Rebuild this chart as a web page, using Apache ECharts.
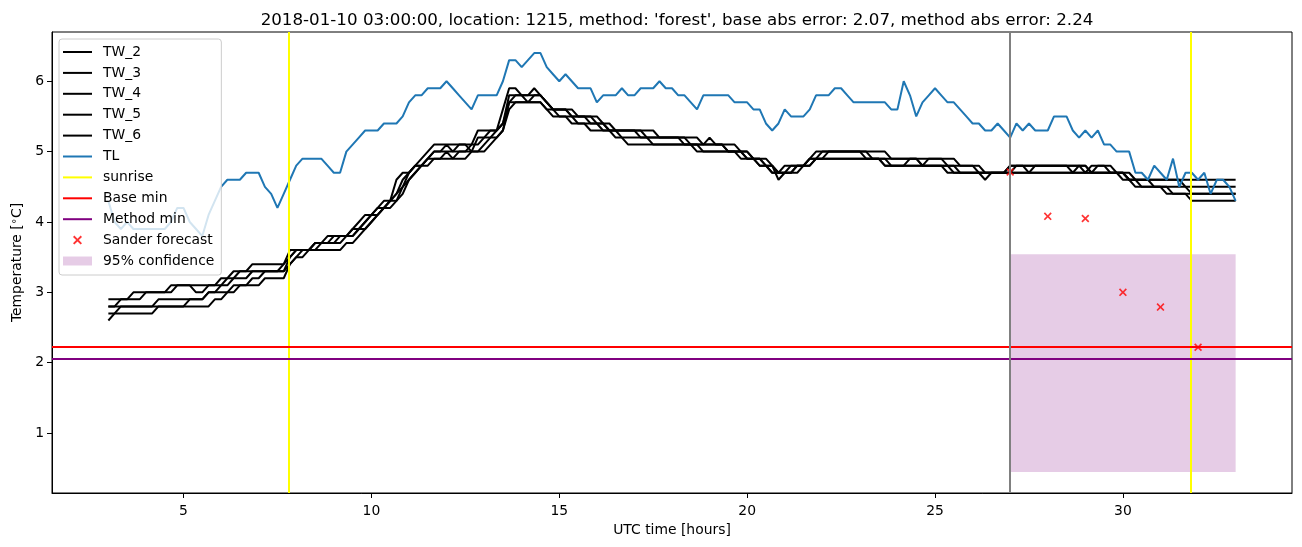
<!DOCTYPE html>
<html><head><meta charset="utf-8">
<script src="https://cdn.jsdelivr.net/npm/echarts@6/dist/echarts.min.js"></script>
<style>html,body{margin:0;padding:0;background:#fff}#c{width:1302px;height:547px}</style>
</head><body><div id="c"></div>
<script>
// sampling grid: every 10 minutes from 03:00 to 33:00 UTC hours
const startHour = 3;
const stepsPerHour = 6;

const TL = [
 4.3,4.0,3.9,4.0,3.9,3.9,
 3.9,3.9,3.9,3.9,4.0,4.2,
 4.2,4.0,3.9,3.8,4.1,4.3,
 4.5,4.6,4.6,4.6,4.7,4.7,
 4.7,4.5,4.4,4.2,4.4,4.6,
 4.8,4.9,4.9,4.9,4.9,4.8,
 4.7,4.7,5.0,5.1,5.2,5.3,
 5.3,5.3,5.4,5.4,5.4,5.5,
 5.7,5.8,5.8,5.9,5.9,5.9,
 6.0,5.9,5.8,5.7,5.6,5.8,
 5.8,5.8,5.8,6.0,6.3,6.3,
 6.2,6.3,6.4,6.4,6.2,6.1,
 6.0,6.1,6.0,5.9,5.9,5.9,
 5.7,5.8,5.8,5.8,5.9,5.8,
 5.8,5.9,5.9,5.9,6.0,5.9,
 5.9,5.8,5.8,5.7,5.6,5.8,
 5.8,5.8,5.8,5.8,5.7,5.7,
 5.7,5.6,5.6,5.4,5.3,5.4,
 5.6,5.5,5.5,5.5,5.6,5.8,
 5.8,5.8,5.9,5.9,5.8,5.7,
 5.7,5.7,5.7,5.7,5.7,5.6,
 5.6,6.0,5.8,5.5,5.7,5.8,
 5.9,5.8,5.7,5.7,5.6,5.5,
 5.4,5.4,5.3,5.3,5.4,5.3,
 5.2,5.4,5.3,5.4,5.3,5.3,
 5.3,5.5,5.5,5.5,5.3,5.2,
 5.3,5.2,5.3,5.1,5.1,5.0,
 5.0,5.0,4.7,4.7,4.6,4.8,
 4.7,4.6,4.9,4.5,4.7,4.7,
 4.6,4.7,4.4,4.6,4.6,4.5,
 4.3
];

const TW_2 = [
 2.9,2.9,2.9,2.9,3.0,3.0,
 3.0,3.0,3.0,3.0,3.1,3.1,
 3.1,3.1,3.0,3.0,3.1,3.1,
 3.2,3.2,3.3,3.3,3.3,3.4,
 3.4,3.4,3.4,3.4,3.4,3.6,
 3.6,3.6,3.6,3.7,3.7,3.8,
 3.8,3.8,3.8,3.9,4.0,4.1,
 4.1,4.2,4.3,4.3,4.6,4.7,
 4.7,4.8,4.9,5.0,5.1,5.1,
 5.1,5.1,5.1,5.1,5.1,5.3,
 5.3,5.3,5.3,5.6,5.9,5.9,
 5.8,5.8,5.9,5.8,5.7,5.6,
 5.6,5.6,5.6,5.5,5.5,5.5,
 5.5,5.4,5.4,5.3,5.3,5.3,
 5.3,5.3,5.3,5.3,5.2,5.2,
 5.2,5.2,5.2,5.2,5.2,5.1,
 5.2,5.1,5.1,5.1,5.1,5.0,
 5.0,4.9,4.9,4.9,4.8,4.7,
 4.8,4.8,4.8,4.8,4.9,4.9,
 5.0,5.0,5.0,5.0,5.0,5.0,
 5.0,5.0,5.0,5.0,5.0,4.9,
 4.9,4.9,4.9,4.9,4.9,4.9,
 4.9,4.9,4.9,4.9,4.8,4.8,
 4.8,4.8,4.7,4.7,4.7,4.7,
 4.8,4.8,4.8,4.8,4.8,4.8,
 4.8,4.8,4.8,4.8,4.8,4.8,
 4.7,4.8,4.8,4.8,4.8,4.7,
 4.7,4.7,4.6,4.6,4.6,4.6,
 4.6,4.6,4.6,4.6,4.6,4.6,
 4.6,4.6,4.6,4.6,4.6,4.6,
 4.6
];

const TW_3 = [
 2.8,2.8,2.9,2.9,2.9,2.9,
 3.0,3.0,3.0,3.0,3.0,3.1,
 3.1,3.1,3.1,3.1,3.1,3.1,
 3.1,3.2,3.2,3.3,3.3,3.3,
 3.3,3.3,3.3,3.3,3.4,3.5,
 3.6,3.6,3.6,3.7,3.7,3.7,
 3.8,3.8,3.8,3.8,3.9,4.0,
 4.1,4.1,4.2,4.3,4.4,4.6,
 4.7,4.8,4.8,4.9,5.0,5.0,
 5.1,5.0,5.1,5.1,5.0,5.2,
 5.2,5.3,5.3,5.4,5.8,5.8,
 5.8,5.8,5.8,5.8,5.7,5.6,
 5.6,5.6,5.5,5.5,5.5,5.5,
 5.4,5.4,5.3,5.3,5.3,5.3,
 5.3,5.3,5.2,5.2,5.2,5.2,
 5.2,5.2,5.1,5.1,5.1,5.1,
 5.1,5.1,5.1,5.0,5.0,5.0,
 4.9,4.9,4.8,4.8,4.7,4.7,
 4.7,4.8,4.8,4.8,4.9,5.0,
 5.0,5.0,5.0,5.0,5.0,5.0,
 5.0,4.9,4.9,4.9,4.9,4.9,
 4.9,4.9,4.9,4.9,4.8,4.9,
 4.9,4.9,4.8,4.8,4.8,4.8,
 4.8,4.7,4.7,4.7,4.7,4.7,
 4.8,4.8,4.8,4.7,4.8,4.8,
 4.8,4.8,4.8,4.8,4.8,4.8,
 4.8,4.7,4.8,4.8,4.7,4.7,
 4.7,4.6,4.6,4.6,4.6,4.6,
 4.6,4.6,4.6,4.6,4.5,4.5,
 4.5,4.5,4.5,4.5,4.5,4.5,
 4.5
];

const TW_4 = [
 2.8,2.8,2.8,2.8,2.8,2.8,
 2.8,2.8,2.9,2.9,2.9,2.9,
 2.9,2.9,2.9,2.9,3.0,3.0,
 3.1,3.1,3.2,3.2,3.2,3.3,
 3.3,3.3,3.3,3.3,3.3,3.5,
 3.6,3.6,3.6,3.7,3.7,3.7,
 3.7,3.8,3.8,3.9,3.9,4.0,
 4.1,4.2,4.2,4.3,4.4,4.5,
 4.7,4.8,4.8,4.9,5.0,5.0,
 5.0,5.0,5.0,5.0,5.1,5.1,
 5.2,5.2,5.3,5.4,5.7,5.8,
 5.8,5.7,5.8,5.8,5.7,5.6,
 5.6,5.6,5.5,5.5,5.5,5.4,
 5.4,5.4,5.3,5.3,5.3,5.3,
 5.3,5.2,5.2,5.2,5.2,5.2,
 5.2,5.2,5.2,5.1,5.1,5.1,
 5.1,5.1,5.1,5.0,5.0,5.0,
 5.0,4.9,4.9,4.8,4.8,4.7,
 4.7,4.7,4.8,4.8,4.8,4.9,
 4.9,5.0,5.0,5.0,5.0,5.0,
 5.0,5.0,4.9,4.9,4.9,4.8,
 4.8,4.8,4.9,4.9,4.8,4.8,
 4.8,4.8,4.8,4.7,4.7,4.7,
 4.7,4.7,4.7,4.7,4.7,4.7,
 4.7,4.8,4.8,4.8,4.8,4.8,
 4.8,4.8,4.8,4.8,4.7,4.8,
 4.8,4.7,4.7,4.7,4.7,4.7,
 4.6,4.6,4.6,4.5,4.5,4.5,
 4.5,4.5,4.4,4.4,4.4,4.4,
 4.4,4.4,4.4,4.4,4.4,4.4,
 4.4
];

const TW_5 = [
 2.7,2.7,2.8,2.8,2.8,2.8,
 2.8,2.8,2.8,2.8,2.8,2.8,
 2.8,2.9,2.9,2.9,3.0,3.0,
 3.0,3.0,3.1,3.1,3.1,3.2,
 3.2,3.3,3.3,3.3,3.3,3.4,
 3.5,3.6,3.6,3.6,3.7,3.7,
 3.7,3.7,3.8,3.8,3.9,3.9,
 4.0,4.1,4.2,4.3,4.3,4.5,
 4.6,4.7,4.8,4.9,4.9,4.9,
 5.0,4.9,5.0,5.0,5.0,5.0,
 5.1,5.2,5.2,5.3,5.7,5.7,
 5.7,5.7,5.7,5.7,5.6,5.6,
 5.5,5.5,5.5,5.4,5.4,5.4,
 5.4,5.3,5.3,5.3,5.2,5.2,
 5.2,5.2,5.2,5.1,5.1,5.1,
 5.1,5.1,5.1,5.1,5.1,5.0,
 5.0,5.0,5.0,5.0,5.0,4.9,
 4.9,4.9,4.8,4.8,4.7,4.7,
 4.7,4.7,4.7,4.8,4.8,4.9,
 4.9,4.9,4.9,4.9,4.9,4.9,
 4.9,4.9,4.9,4.9,4.8,4.8,
 4.8,4.8,4.8,4.8,4.8,4.8,
 4.8,4.8,4.7,4.7,4.7,4.7,
 4.7,4.7,4.7,4.7,4.7,4.7,
 4.7,4.7,4.7,4.7,4.7,4.7,
 4.7,4.7,4.7,4.7,4.7,4.7,
 4.7,4.7,4.7,4.7,4.7,4.7,
 4.7,4.6,4.6,4.6,4.6,4.5,
 4.5,4.5,4.5,4.5,4.5,4.4,
 4.4,4.4,4.4,4.4,4.4,4.4,
 4.4
];

const TW_6 = [
 2.6,2.7,2.7,2.7,2.7,2.7,
 2.7,2.7,2.8,2.8,2.8,2.8,
 2.8,2.8,2.8,2.8,2.8,2.9,
 2.9,3.0,3.0,3.1,3.1,3.1,
 3.1,3.2,3.2,3.2,3.2,3.4,
 3.5,3.5,3.6,3.6,3.6,3.6,
 3.6,3.6,3.7,3.7,3.8,3.9,
 4.0,4.1,4.2,4.2,4.3,4.4,
 4.6,4.7,4.8,4.8,4.9,4.9,
 4.9,4.9,4.9,4.9,5.0,5.0,
 5.0,5.1,5.2,5.3,5.6,5.7,
 5.7,5.7,5.7,5.7,5.6,5.5,
 5.5,5.5,5.4,5.4,5.4,5.3,
 5.3,5.3,5.3,5.2,5.2,5.1,
 5.1,5.1,5.1,5.1,5.1,5.1,
 5.1,5.1,5.1,5.1,5.0,5.0,
 5.0,5.0,5.0,5.0,5.0,5.0,
 4.9,4.9,4.9,4.8,4.8,4.6,
 4.7,4.7,4.8,4.8,4.9,4.9,
 4.9,4.9,4.9,4.9,4.9,4.9,
 4.9,4.9,4.9,4.9,4.8,4.8,
 4.8,4.8,4.8,4.8,4.8,4.8,
 4.8,4.8,4.8,4.8,4.7,4.7,
 4.7,4.7,4.6,4.7,4.7,4.7,
 4.7,4.7,4.7,4.7,4.7,4.7,
 4.7,4.7,4.7,4.7,4.7,4.7,
 4.7,4.7,4.7,4.7,4.7,4.7,
 4.7,4.6,4.5,4.5,4.5,4.5,
 4.5,4.4,4.4,4.4,4.4,4.3,
 4.3,4.3,4.3,4.3,4.3,4.3,
 4.3
];

const sunriseHours = [7.8, 31.8];
const forecastStartHour = [27.0];
const baseMin = [2.22];
const methodMin = [2.06];
const sanderHours = [27, 28, 29, 30, 31, 32];
const sanderValues = [4.71, 4.08, 4.05, 3.0, 2.79, 2.22];
const confidenceHours = [27, 33];
const confidenceRange = [0.446, 3.54];
const xTicks = [5, 10, 15, 20, 25, 30];
const yTicks = [1, 2, 3, 4, 5, 6];
const titleText = "2018-01-10 03:00:00, location: 1215, method: 'forest', base abs error: 2.07, method abs error: 2.24";

const times = TL.map((_, i) => startHour + i / stepsPerHour);
const pairs = arr => arr.map((v, i) => [times[i], v]);

const FONT = 'DejaVu Sans';
const LW = 2;
const chart = echarts.init(document.getElementById('c'), null, {renderer: 'canvas'});

const twSeries = [['TW_2', TW_2], ['TW_3', TW_3], ['TW_4', TW_4], ['TW_5', TW_5], ['TW_6', TW_6]].map(([n, d]) => ({
  name: n, type: 'line', data: pairs(d), symbol: 'none', showSymbol: false, color: '#000000',
  lineStyle: {color: '#000000', width: LW}, z: 2
}));

const vline = (name, color, vals, z) => ({
  name, type: 'line', data: [], symbol: 'none', color,
  lineStyle: {color, width: LW}, z,
  markLine: {silent: true, symbol: ['none', 'none'], label: {show: false}, animation: false,
    lineStyle: {color, width: LW, type: 'solid'},
    data: vals.map(v => ({xAxis: v}))}
});
const hline = (name, color, vals, z) => ({
  name, type: 'line', data: [], symbol: 'none', color,
  lineStyle: {color, width: LW}, z,
  markLine: {silent: true, symbol: ['none', 'none'], label: {show: false}, animation: false,
    lineStyle: {color, width: LW, type: 'solid'},
    data: vals.map(v => ({yAxis: v}))}
});

const xPath = 'path://M0,1.5L1.5,0L5,3.5L8.5,0L10,1.5L6.5,5L10,8.5L8.5,10L5,6.5L1.5,10L0,8.5L3.5,5Z';
const lineIcon = 'path://M0,0L29,0L29,2L0,2Z';

const option = {
  animation: false,
  backgroundColor: '#ffffff',
  textStyle: {fontFamily: FONT},
  title: {
    text: titleText, left: 672, top: 7, textAlign: 'center',
    textStyle: {fontFamily: FONT, fontSize: 16.7, fontWeight: 'normal', color: '#000'}
  },
  grid: {left: 52, top: 32, width: 1240, height: 461, show: true, borderColor: '#000', borderWidth: 1,
    backgroundColor: 'transparent', containLabel: false, outerBoundsMode: 'none'},
  legend: {
    orient: 'vertical', left: 59, top: 39, z: 20,
    padding: [6, 7, 7, 4],
    itemWidth: 29, itemHeight: 9, itemGap: 6.9, symbolKeepAspect: true,
    backgroundColor: 'rgba(255,255,255,0.8)', borderColor: '#cccccc', borderWidth: 1, borderRadius: 3,
    textStyle: {fontFamily: FONT, fontSize: 13.9, color: '#000', lineHeight: 14, padding: [0, 0, 0, 6]},
    data: [
      {name: 'TW_2', icon: lineIcon}, {name: 'TW_3', icon: lineIcon}, {name: 'TW_4', icon: lineIcon},
      {name: 'TW_5', icon: lineIcon}, {name: 'TW_6', icon: lineIcon}, {name: 'TL', icon: lineIcon},
      {name: 'sunrise', icon: lineIcon}, {name: 'Base min', icon: lineIcon}, {name: 'Method min', icon: lineIcon},
      {name: 'Sander forecast', icon: xPath},
      {name: '95% confidence', icon: 'rect'}],
    selectedMode: false
  },
  xAxis: {
    type: 'value', min: 1.5, max: 34.5,
    name: 'UTC time [hours]', nameLocation: 'middle', nameGap: 30,
    nameTextStyle: {fontFamily: FONT, fontSize: 13.9, color: '#000'},
    axisLine: {show: true, onZero: false, lineStyle: {color: '#000', width: 1}},
    axisTick: {show: true, length: 5, lineStyle: {color: '#000', width: 1}, customValues: xTicks},
    axisLabel: {fontFamily: FONT, fontSize: 13.9, color: '#000', margin: 11, customValues: xTicks},
    splitLine: {show: false}
  },
  yAxis: {
    type: 'value', min: 0.148, max: 6.70,
    name: 'Temperature [{s|∘}C]', nameLocation: 'middle', nameGap: 26, nameRotate: 90,
    nameTextStyle: {fontFamily: FONT, fontSize: 13.9, color: '#000',
      rich: {s: {fontFamily: FONT, fontSize: 10, color: '#000', padding: [0, 0, 6, 0]}}},
    axisLine: {show: true, onZero: false, lineStyle: {color: '#000', width: 1}},
    axisTick: {show: true, length: 5, lineStyle: {color: '#000', width: 1}, customValues: yTicks},
    axisLabel: {fontFamily: FONT, fontSize: 13.9, color: '#000', margin: 8, customValues: yTicks},
    splitLine: {show: false}
  },
  series: [
    {
      name: '95% confidence', type: 'line', data: [], symbol: 'none',
      color: 'rgba(128,0,128,0.2)', itemStyle: {color: 'rgba(128,0,128,0.2)'}, z: 1,
      markArea: {silent: true, animation: false, itemStyle: {color: 'rgba(128,0,128,0.2)'},
        data: [[{coord: [confidenceHours[0], confidenceRange[0]]}, {coord: [confidenceHours[1], confidenceRange[1]]}]]}
    },
    ...twSeries,
    {name: 'TL', type: 'line', data: pairs(TL), symbol: 'none', showSymbol: false, color: '#1f77b4', lineStyle: {color: '#1f77b4', width: LW}, z: 2},
    vline('sunrise', '#ffff00', sunriseHours, 3),
    hline('Base min', '#ff0000', baseMin, 3),
    hline('Method min', '#800080', methodMin, 3),
    vline('forecast start', '#808080', forecastStartHour, 3),
    {
      name: 'Sander forecast', type: 'scatter', symbol: xPath, symbolSize: 8,
      data: sanderHours.map((h, i) => [h, sanderValues[i]]),
      itemStyle: {color: '#ff0000'}, z: 3
    }
  ]
};
chart.setOption(option);
</script>
</body></html>
